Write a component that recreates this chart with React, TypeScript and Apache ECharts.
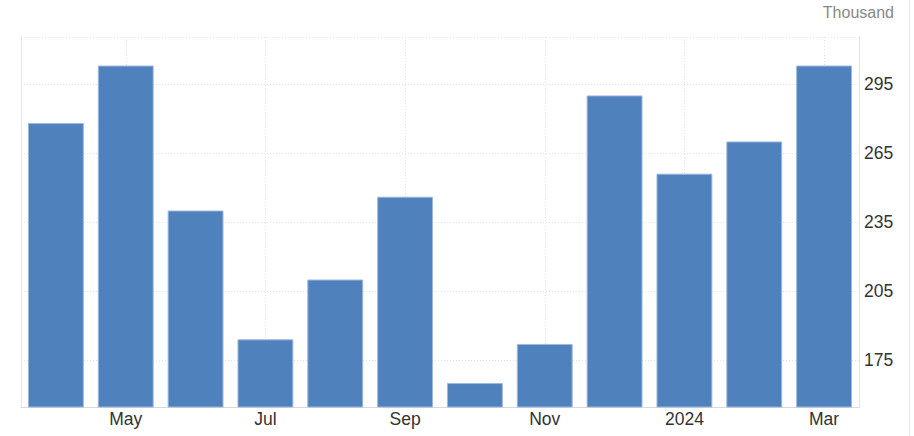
import React, { useEffect, useRef } from "react";
import * as echarts from "echarts";

const categories = ["Apr", "May", "Jun", "Jul", "Aug", "Sep", "Oct", "Nov", "Dec", "2024", "Feb", "Mar"];
const values = [278, 303, 240, 184, 210, 246, 165, 182, 290, 256, 270, 303];
const yTicks = [175, 205, 235, 265, 295];
const labeledCategories = ["May", "Jul", "Sep", "Nov", "2024", "Mar"];
const unitLabel = "Thousand";
const yMin = 154.6;
const yMax = 315.4;

export default function App() {
  const ref = useRef<HTMLDivElement>(null);
  useEffect(() => {
    if (!ref.current) return;
    const chart = echarts.init(ref.current, undefined, { renderer: "svg" });
    const gridLineStyle = { color: "#e4e4e4", type: [1, 2] as any, width: 1 };
    chart.setOption({
      animation: false,
      textStyle: { fontFamily: "Liberation Sans, Arial, sans-serif" },
      grid: { left: 21, right: 55, top: 37, bottom: 29, containLabel: false },
      graphic: [
        {
          type: "text",
          right: 20,
          top: 4,
          style: { text: unitLabel, fill: "#888", fontSize: 16, fontFamily: "Liberation Sans, Arial, sans-serif" },
        },
        {
          type: "line",
          shape: { x1: 909.5, y1: 0, x2: 909.5, y2: 436 },
          style: { stroke: "#e8e8e8", lineWidth: 1 },
          silent: true,
        },
      ],
      xAxis: {
        type: "category",
        data: categories,
        boundaryGap: true,
        axisLine: { show: true, lineStyle: { color: "#d9d9d9", width: 1 } },
        axisTick: { show: false },
        splitLine: { show: false },
        axisLabel: {
          color: "#333",
          fontSize: 17.5,
          margin: 3,
          interval: (i: number, v: string) => labeledCategories.includes(v),
        },
      },
      yAxis: [
        {
          type: "value",
          position: "right",
          min: yMin,
          max: yMax,
          axisLine: { show: true, lineStyle: { color: "#e4e4e4" } },
          axisTick: { show: false, customValues: yTicks },
          splitLine: { show: false },
          axisLabel: {
            color: "#333",
            fontSize: 17.5,
            margin: 5,
            customValues: yTicks,
          },
        },
        {
          type: "value",
          position: "left",
          min: yMin,
          max: yMax,
          axisLine: { show: true, lineStyle: { color: "#e4e4e4" } },
          axisTick: { show: false },
          axisLabel: { show: false },
          splitLine: { show: false },
        },
      ],
      series: [
        {
          type: "line",
          data: [],
          z: 0,
          silent: true,
          markLine: {
            z: 0,
            silent: true,
            symbol: ["none", "none"],
            label: { show: false },
            lineStyle: gridLineStyle,
            data: [
              ...yTicks.map((v) => ({ yAxis: v })),
              { yAxis: yMax },
              ...labeledCategories.map((c) => ({ xAxis: c })),
            ],
          },
        },
        {
          type: "bar",
          data: values,
          z: 3,
          barCategoryGap: "20%",
          itemStyle: { color: "#4f81bd", borderColor: "#9db7dc", borderWidth: 1 },
        },
      ],
    });
    return () => chart.dispose();
  }, []);
  return <div ref={ref} style={{ width: 914, height: 436, position: "absolute", left: 0, top: 0 }} />;
}
